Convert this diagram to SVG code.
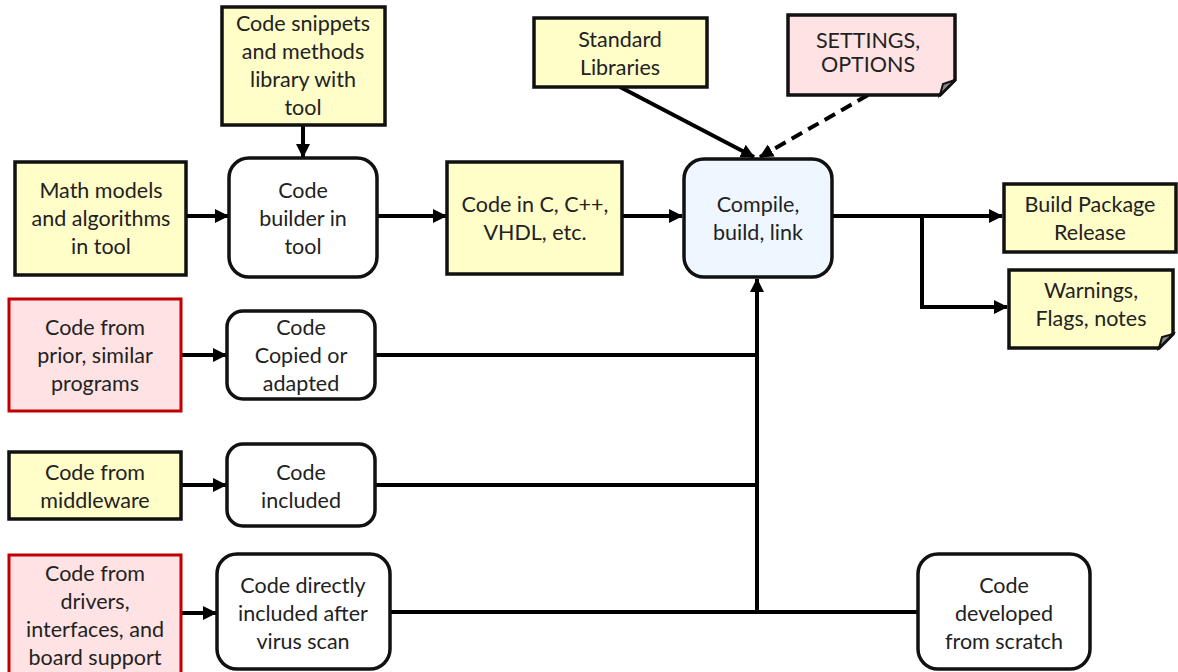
<svg xmlns="http://www.w3.org/2000/svg" width="1178" height="672" viewBox="0 0 1178 672">
  <style>
    .t { font-family: Lato, "Open Sans", "Liberation Sans", sans-serif; font-size: 21.5px; fill: #222; text-anchor: middle; }
    .yel { fill: #FFFDC8; stroke: #111; stroke-width: 3.5; }
    .red { fill: #FFE2E4; stroke: #C00000; stroke-width: 3; }
    .pink { fill: #FFE2E4; stroke: #111; stroke-width: 3.5; }
    .rnd { fill: #FFFFFF; stroke: #111; stroke-width: 3.5; }
    .blue { fill: #EEF6FF; stroke: #111; stroke-width: 3.5; }
    .fold { fill: #888; stroke: #111; stroke-width: 2; }
    .ln { fill: none; stroke: #000; stroke-width: 4; }
    .arr { fill: none; stroke: #000; stroke-width: 4; marker-end: url(#ah); }
    .dash { fill: none; stroke: #000; stroke-width: 4; stroke-dasharray: 12 7; marker-end: url(#ah); }
  </style>
  <defs>
    <marker id="ah" markerUnits="userSpaceOnUse" markerWidth="14" markerHeight="14" refX="13" refY="7" orient="auto">
      <path d="M0,0 L14,7 L0,14 Z" fill="#000"/>
    </marker>
  </defs>
  <rect width="1178" height="672" fill="#FFFFFF"/>

  <g id="connectors">
    <path class="arr" d="M303,125 V157"/>
    <path class="arr" d="M187,216 H228"/>
    <path class="arr" d="M377,216 H446"/>
    <path class="arr" d="M622,216 H682"/>
    <path class="arr" d="M620,87 L754,157"/>
    <path class="dash" d="M868,95 L760,157"/>
    <path class="arr" d="M832,216 H1002"/>
    <path class="arr" d="M922,216 V307 H1007"/>
    <path class="arr" d="M182,355 H226"/>
    <path class="arr" d="M182,485 H226"/>
    <path class="arr" d="M182,613 H216"/>
    <path class="ln" d="M375,355 H757"/>
    <path class="ln" d="M375,485 H757"/>
    <path class="ln" d="M390,612 H918"/>
    <path class="arr" d="M757,612 V279"/>
  </g>

  <g id="snippets">
    <rect class="yel" x="222" y="7" width="163" height="118"/>
    <text class="t" x="303" y="31">Code snippets</text>
    <text class="t" x="303" y="59">and methods</text>
    <text class="t" x="303" y="87">library with</text>
    <text class="t" x="303" y="115">tool</text>
  </g>

  <g id="math">
    <rect class="yel" x="15" y="162" width="171" height="113"/>
    <text class="t" x="101" y="198">Math models</text>
    <text class="t" x="101" y="226">and algorithms</text>
    <text class="t" x="101" y="254">in tool</text>
  </g>

  <g id="builder">
    <rect class="rnd" x="229" y="158" width="148" height="119" rx="20"/>
    <text class="t" x="303" y="198">Code</text>
    <text class="t" x="303" y="226">builder in</text>
    <text class="t" x="303" y="254">tool</text>
  </g>

  <g id="codec">
    <rect class="yel" x="447" y="162" width="175" height="112"/>
    <text class="t" x="535" y="212">Code in C, C++,</text>
    <text class="t" x="535" y="240">VHDL, etc.</text>
  </g>

  <g id="compile">
    <rect class="blue" x="684" y="159" width="148" height="118" rx="20"/>
    <text class="t" x="758" y="212">Compile,</text>
    <text class="t" x="758" y="240">build, link</text>
  </g>

  <g id="stdlib">
    <rect class="yel" x="534" y="18" width="173" height="69"/>
    <text class="t" x="620" y="47">Standard</text>
    <text class="t" x="620" y="75">Libraries</text>
  </g>

  <g id="settings">
    <path class="pink" d="M788,15 H955 V80 L940,95 H788 Z"/>
    <path class="fold" d="M955,80 L940,95 L943,84 Z"/>
    <text class="t" x="868" y="48">SETTINGS,</text>
    <text class="t" x="868" y="72">OPTIONS</text>
  </g>

  <g id="release">
    <rect class="yel" x="1004" y="184" width="172" height="68"/>
    <text class="t" x="1090" y="212">Build Package</text>
    <text class="t" x="1090" y="240">Release</text>
  </g>

  <g id="warnings">
    <path class="yel" d="M1009,270 H1173 V334 L1159,348 H1009 Z"/>
    <path class="fold" d="M1173,334 L1159,348 L1162,337 Z"/>
    <text class="t" x="1091" y="298">Warnings,</text>
    <text class="t" x="1091" y="326">Flags, notes</text>
  </g>

  <g id="prior">
    <rect class="red" x="9" y="299" width="172" height="112"/>
    <text class="t" x="95" y="335">Code from</text>
    <text class="t" x="95" y="363">prior, similar</text>
    <text class="t" x="95" y="391">programs</text>
  </g>

  <g id="copied">
    <rect class="rnd" x="227" y="311" width="148" height="88" rx="16"/>
    <text class="t" x="301" y="335">Code</text>
    <text class="t" x="301" y="363">Copied or</text>
    <text class="t" x="301" y="391">adapted</text>
  </g>

  <g id="middleware">
    <rect class="yel" x="9" y="452" width="172" height="67"/>
    <text class="t" x="95" y="480">Code from</text>
    <text class="t" x="95" y="508">middleware</text>
  </g>

  <g id="included">
    <rect class="rnd" x="227" y="444" width="148" height="82" rx="16"/>
    <text class="t" x="301" y="480">Code</text>
    <text class="t" x="301" y="508">included</text>
  </g>

  <g id="drivers">
    <rect class="red" x="9" y="555" width="172" height="125"/>
    <text class="t" x="95" y="581">Code from</text>
    <text class="t" x="95" y="609">drivers,</text>
    <text class="t" x="95" y="637">interfaces, and</text>
    <text class="t" x="95" y="665">board support</text>
  </g>

  <g id="direct">
    <rect class="rnd" x="217" y="554" width="173" height="115" rx="20"/>
    <text class="t" x="303" y="593">Code directly</text>
    <text class="t" x="303" y="621">included after</text>
    <text class="t" x="303" y="649">virus scan</text>
  </g>

  <g id="scratch">
    <rect class="rnd" x="918" y="554" width="172" height="115" rx="20"/>
    <text class="t" x="1004" y="593">Code</text>
    <text class="t" x="1004" y="621">developed</text>
    <text class="t" x="1004" y="649">from scratch</text>
  </g>
</svg>
